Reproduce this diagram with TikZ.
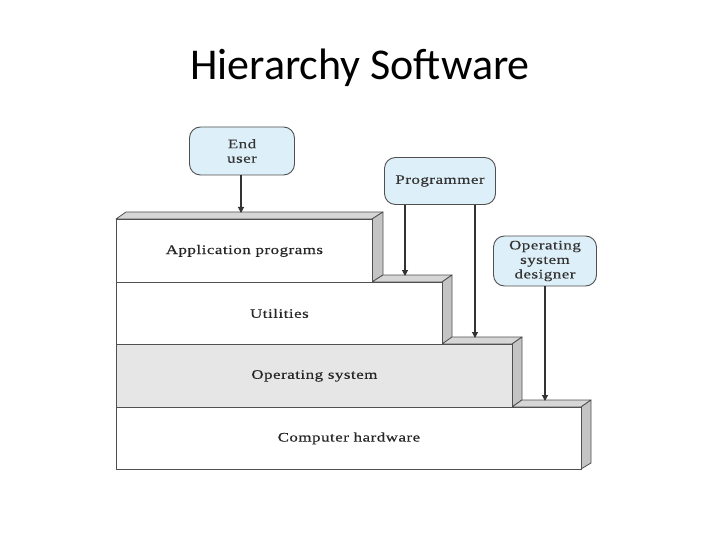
\documentclass[tikz,border=0pt]{standalone}
\usepackage{fontspec}
\setmainfont{Liberation Serif}
\newfontfamily\figfont[FakeStretch=1.3,LetterSpace=4,FakeBold=0.4]{Liberation Serif}
\newfontfamily\titlefont{Carlito}
\usetikzlibrary{arrows.meta}
\definecolor{edge}{HTML}{505050}
\definecolor{sidegray}{HTML}{C4C4C4}
\definecolor{topgray}{HTML}{D6D6D6}
\definecolor{osgray}{HTML}{E6E6E6}
\definecolor{boxblue}{HTML}{DDEFF8}
\tikzset{
  layer/.style={draw=edge, line width=0.8pt, inner sep=0pt, anchor=north west,
    font=\figfont\fontsize{13}{15}\selectfont, text=black!85},
  face/.style={draw=edge, line width=0.8pt, line join=round},
  actor/.style={draw=edge, line width=0.9pt, fill=boxblue, rounded corners=11pt,
    inner sep=0pt, align=center, font=\figfont\fontsize{13}{14.5}\selectfont, text=black!80},
  conn/.style={draw=black!80, line width=1.1pt, -{Triangle[length=6pt,width=6pt]}}
}
\begin{document}
\begin{tikzpicture}[x=1pt,y=-1pt]
\useasboundingbox (0,0) rectangle (720,540);
\node[font=\titlefont\fontsize{44}{48}\selectfont] (title) at (360,68) {Hierarchy Software};

% top and side faces
\draw[face, fill=topgray] (116,219) -- (372,219) -- (383,212) -- (126,212) -- cycle;
\draw[face, fill=sidegray] (372,219) -- (383,212) -- (383,275) -- (372,282) -- cycle;
\draw[face, fill=topgray] (372,282) -- (442,282) -- (452,275) -- (383,275) -- cycle;
\draw[face, fill=sidegray] (442,282) -- (452,275) -- (452,338) -- (442,344) -- cycle;
\draw[face, fill=topgray] (442,344) -- (512,344) -- (522,337) -- (452,337) -- cycle;
\draw[face, fill=sidegray] (512,344) -- (522,337) -- (522,400) -- (512,407) -- cycle;
\draw[face, fill=topgray] (512,407) -- (581,407) -- (591,400) -- (522,400) -- cycle;
\draw[face, fill=sidegray] (581,407) -- (591,400) -- (591,463) -- (581,469) -- cycle;

% front faces
\node[layer, fill=white, minimum width=256pt, minimum height=63pt] (app) at (116,219) {Application programs};
\node[layer, fill=white, minimum width=326pt, minimum height=62pt] (util) at (116,282) {Utilities};
\node[layer, fill=osgray, minimum width=396pt, minimum height=63pt] (os) at (116,344) {Operating system};
\node[layer, fill=white, minimum width=465pt, minimum height=62pt] (hw) at (116,407) {Computer hardware};

% actors
\node[actor, minimum width=105pt, minimum height=48pt] (eu) at (242,151) {End\\user};
\node[actor, minimum width=111pt, minimum height=47pt] (prog) at (440,181) {Programmer};
\node[actor, minimum width=103pt, minimum height=50pt] (osd) at (545,261) {Operating\\system\\designer};

% arrow targets
\coordinate (t1) at (241,213);
\coordinate (t2) at (405,276);
\coordinate (t3) at (475,338);
\coordinate (t4) at (545,401);

\draw[conn] (eu.south -| t1) -- (t1);
\draw[conn] (prog.south -| t2) -- (t2);
\draw[conn] (prog.south -| t3) -- (t3);
\draw[conn] (osd.south -| t4) -- (t4);
\end{tikzpicture}
\end{document}
